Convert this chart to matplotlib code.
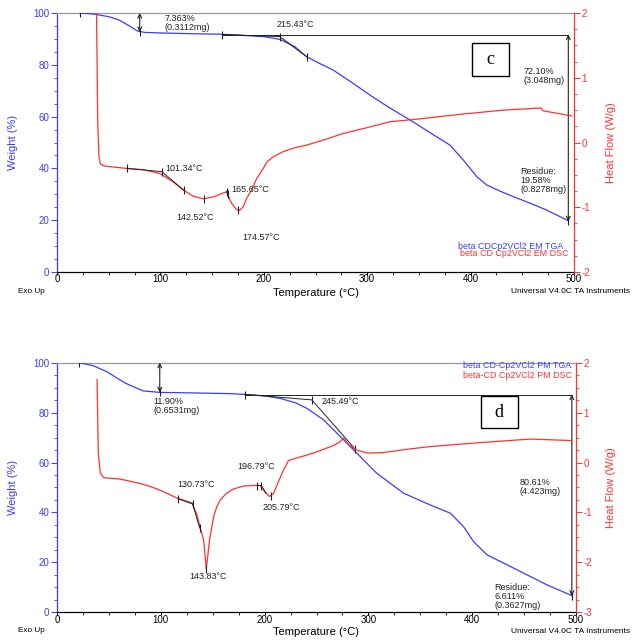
import matplotlib
matplotlib.use('Agg')
import matplotlib.pyplot as plt
from matplotlib.ticker import MultipleLocator
from matplotlib.patches import Rectangle

plt.rcParams['font.family'] = ['Liberation Sans', 'DejaVu Sans']
plt.rcParams['axes.unicode_minus'] = False

BLUE = '#3b3bff'
RED = '#ff3030'

# ---------------- panel c data ----------------
tga_c_T = [22, 35, 50, 60, 70, 78, 85, 100, 130, 160, 199.5, 215.7, 230, 241.5, 254, 267, 285,
           302.7, 320, 341.4, 360, 380, 393, 406, 415.6, 428, 441.3, 458, 473.6, 494.5]
tga_c_W = [100, 99.6, 98.6, 97.3, 95.0, 93.0, 92.5, 92.3, 92.0, 91.8, 90.9, 89.8, 87.0, 83.1, 80.5,
           78.0, 73.2, 68.3, 63.8, 58.7, 54.0, 49.0, 43.2, 36.8, 33.6, 31.3, 29.1, 26.5, 23.9, 19.8]
dsc_c_T = [38.2, 39.4, 40.6, 42.0, 45, 55, 67.4, 83.5, 99.6, 112.5, 122.8, 131.8, 141.5, 151.2,
           160.8, 164.1, 165.7, 169, 173.8, 176.5, 180.2, 183.5, 188.3, 193, 199.5, 203, 209.2,
           218.9, 230, 241.5, 260, 276.9, 300, 322, 347.9, 370, 393, 431.6, 464, 468.5, 470, 497.8]
dsc_c_HF = [2.05, 0.3, -0.22, -0.33, -0.36, -0.38, -0.40, -0.42, -0.48, -0.61, -0.74, -0.83, -0.87,
            -0.84, -0.78, -0.76, -0.84, -0.94, -1.04, -1.05, -0.99, -0.86, -0.73, -0.56, -0.40,
            -0.30, -0.22, -0.14, -0.08, -0.04, 0.05, 0.14, 0.23, 0.32, 0.36, 0.40, 0.44, 0.50,
            0.53, 0.53, 0.49, 0.41]
# analysis constructions, panel c
c_base_T = [160, 494.5]
c_base_W = [91.68, 91.68]
c_onset_T = [160, 215.43, 241.5]
c_onset_W = [91.68, 90.9, 83.1]
c_tga_mark_T = [22, 80, 160, 215.43, 241.5, 494.5]
c_tga_mark_W = [100, 92.64, 91.68, 90.9, 83.1, 19.58]
c_step1 = (80, 100, 92.64)          # T, from, to
c_step2 = (494.5, 91.68, 19.58)
c_dsc_tan_T = [67.4, 101.34, 122.8]
c_dsc_tan_HF = [-0.40, -0.45, -0.74]
c_dsc_tan2_T = [164.1, 166.5]
c_dsc_tan2_HF = [-0.76, -0.86]
c_dsc_mark_T = [67.4, 101.34, 122.8, 142.52, 164.1, 165.65, 174.57]
c_dsc_mark_HF = [-0.40, -0.46, -0.74, -0.87, -0.76, -0.80, -1.05]

# ---------------- panel d data ----------------
tga_d_T = [21.5, 35, 48, 58, 66, 73.5, 83, 99, 130, 167, 181, 200, 215, 230, 240.8, 256.8, 273,
           289, 308, 334, 359.6, 379, 391.7, 401.4, 414.3, 440, 472, 496]
tga_d_W = [100, 98.8, 96.4, 93.8, 91.8, 90.4, 88.7, 88.1, 87.9, 87.6, 87.3, 86.7, 85.7, 83.9, 81.7,
           77.1, 70.4, 63.7, 55.7, 47.7, 43.0, 39.7, 34.3, 28.3, 23.0, 17.7, 11.0, 6.7]
dsc_d_T = [38.6, 39.8, 41.7, 44.9, 48, 60, 67.4, 80, 90, 100, 115.6, 130, 134.9, 138, 141.3, 143.8,
           147, 150.9, 154, 157.3, 163, 170, 180, 189.4, 195.8, 200.7, 204.8, 208.6, 213, 218,
           223, 231, 247, 266.5, 273, 276, 281, 287.4, 298.6, 314.7, 335, 359.6, 407.8, 456, 496]
dsc_d_HF = [1.66, 0.19, -0.21, -0.30, -0.31, -0.33, -0.36, -0.42, -0.48, -0.56, -0.71, -0.81, -1.05,
            -1.31, -1.55, -2.13, -1.55, -1.08, -0.88, -0.75, -0.62, -0.53, -0.47, -0.46, -0.46,
            -0.60, -0.68, -0.62, -0.40, -0.16, 0.04, 0.09, 0.19, 0.34, 0.42, 0.49, 0.36, 0.26,
            0.19, 0.20, 0.26, 0.32, 0.40, 0.47, 0.44]
d_base_T = [181, 496]
d_base_W = [87.22, 87.22]
d_onset_T = [181, 245.49, 287.4]
d_onset_W = [87.3, 85.1, 65.3]
d_tga_mark_T = [21.5, 99, 181, 245.49, 287.4, 496]
d_tga_mark_W = [100, 88.1, 87.22, 85.1, 65.3, 6.611]
d_step1 = (99, 100, 88.1)
d_step2 = (496, 87.22, 6.611)
d_dsc_tan_T = [117, 130.73, 137.4]
d_dsc_tan_HF = [-0.73, -0.83, -1.31]
d_dsc_tan2_T = [192.7, 196.79, 201.7]
d_dsc_tan2_HF = [-0.46, -0.46, -0.62]
d_dsc_mark_T = [117, 130.73, 137.4, 143.83, 192.7, 196.79, 205.79]
d_dsc_mark_HF = [-0.73, -0.83, -1.31, -2.13, -0.46, -0.46, -0.68]

fig = plt.figure(figsize=(6.4, 6.43), dpi=100)


def panel(rect, hf_lim, tga_T, tga_W, dsc_T, dsc_HF, base, onset, tmark, step1, step2,
          dtan, dtan2, dmark, texts, box, boxletter, legend, lab_y):
    ax = fig.add_axes(rect)
    ax2 = ax.twinx()
    ax.set_xlim(0, 500)
    ax.set_ylim(0, 100)
    ax2.set_ylim(*hf_lim)
    ax.set_zorder(1)
    ax2.set_zorder(2)
    ax.patch.set_visible(False)
    ax2.patch.set_visible(False)

    ax.spines['right'].set_visible(False)
    ax.spines['left'].set_color(BLUE)
    ax.spines['bottom'].set_color('black')
    ax.spines['top'].set_color('#9a9a9a')
    for s in ['left', 'top', 'bottom']:
        ax2.spines[s].set_visible(False)
    ax2.spines['right'].set_color(RED)
    for sp in list(ax.spines.values()) + list(ax2.spines.values()):
        sp.set_linewidth(0.9)

    ax.xaxis.set_major_locator(MultipleLocator(100))
    ax.xaxis.set_minor_locator(MultipleLocator(25))
    ax.yaxis.set_major_locator(MultipleLocator(20))
    ax.yaxis.set_minor_locator(MultipleLocator(5))
    ax2.yaxis.set_major_locator(MultipleLocator(1))
    ax2.yaxis.set_minor_locator(MultipleLocator(0.25))
    ax.tick_params(axis='x', which='both', top=False, direction='out', colors='black',
                   labelsize=7, pad=-0.8)
    ax.tick_params(axis='x', which='major', length=2.4, width=0.7)
    ax.tick_params(axis='x', which='minor', length=1.8, width=0.6)
    ax.tick_params(axis='y', which='both', right=False, direction='out', color=BLUE,
                   labelcolor=BLUE, labelsize=7, pad=1.5)
    ax.tick_params(axis='y', which='major', length=4, width=0.7)
    ax.tick_params(axis='y', which='minor', length=2.5, width=0.6)
    ax2.tick_params(axis='y', which='both', direction='out', color=RED, labelcolor=RED,
                    labelsize=7, pad=1.5)
    ax2.tick_params(axis='y', which='major', length=4, width=0.7)
    ax2.tick_params(axis='y', which='minor', length=2.5, width=0.6)

    # curves
    ax.plot(tga_T, tga_W, color=BLUE, lw=0.9, zorder=3)
    ax2.plot(dsc_T, dsc_HF, color=RED, lw=0.9, zorder=3)

    # constructions
    ax.plot(*base, color='#222222', lw=0.7, zorder=4)
    ax.plot(*onset, color='#222222', lw=0.7, zorder=4)
    ax.plot(*tmark, ls='none', marker='|', ms=6, mew=0.8, color='#222222', zorder=5)
    for (t, y0, y1) in (step1, step2):
        ax.annotate('', xy=(t, y1), xytext=(t, y0),
                    arrowprops=dict(arrowstyle='<->', color='#222222', lw=0.8,
                                    shrinkA=0, shrinkB=0, mutation_scale=7), zorder=5)
    ax2.plot(*dtan, color='#222222', lw=0.7, zorder=4)
    ax2.plot(*dtan2, color='#222222', lw=0.7, zorder=4)
    ax2.plot(*dmark, ls='none', marker='|', ms=6, mew=0.8, color='#222222', zorder=5)

    lo, hi = ax2.get_ylim()
    conv = lambda w: lo + (hi - lo) * w / 100.0
    for (t, w, s) in texts:
        ax2.text(t, conv(w), s, fontsize=6.5, color='#222222', ha='left', va='center',
                 linespacing=1.0, zorder=6)

    (bx0, bw0, bx1, bw1) = box
    ax2.add_patch(Rectangle((bx0, conv(bw0)), bx1 - bx0, conv(bw1) - conv(bw0), fill=True,
                            facecolor='white', edgecolor='black', lw=1.0, zorder=6))
    ax2.text((bx0 + bx1) / 2, conv((bw0 + bw1) / 2), boxletter, fontsize=13,
             family='Liberation Serif', ha='center', va='center', zorder=7)

    for (t, w, s, col) in legend:
        ax2.text(t, conv(w), s, fontsize=6.4, color=col, ha='right', va='center', zorder=6)

    # outer labels
    cy = rect[1] + rect[3] / 2
    fig.text(13 / 640, cy, 'Weight (%)', rotation=90, color=BLUE, fontsize=8,
             ha='center', va='center')
    fig.text(611 / 640, cy, 'Heat Flow (W/g)', rotation=90, color=RED, fontsize=8,
             ha='center', va='center')
    fig.text(0.494, lab_y, 'Temperature (°C)', fontsize=8, ha='center', va='center')
    fig.text(18 / 640, lab_y + 0.002, 'Exo Up', fontsize=5.9, ha='left', va='center')
    fig.text(630 / 640, lab_y + 0.001, 'Universal V4.0C TA Instruments', fontsize=6,
             ha='right', va='center')
    return ax, ax2


texts_c = [(104.4, 96.3, '7.363%\n(0.3112mg)'),
           (212.8, 95.75, '215.43°C'),
           (451.6, 75.7, '72.10%\n(3.048mg)'),
           (447.8, 35.5, 'Residue:\n19.58%\n(0.8278mg)'),
           (104.4, 39.8, '101.34°C'),
           (169.0, 32.0, '165.65°C'),
           (115.8, 21.1, '142.52°C'),
           (179.6, 13.2, '174.57°C')]
legend_c = [(489.4, 10.0, 'beta CDCp2VCl2 EM TGA', BLUE),
            (494.2, 7.0, 'beta CD Cp2VCl2 EM DSC', RED)]

panel([57 / 640, 1 - 272 / 643, 517 / 640, 259 / 643], (-2, 2),
      tga_c_T, tga_c_W, dsc_c_T, dsc_c_HF,
      (c_base_T, c_base_W), (c_onset_T, c_onset_W), (c_tga_mark_T, c_tga_mark_W),
      c_step1, c_step2, (c_dsc_tan_T, c_dsc_tan_HF), (c_dsc_tan2_T, c_dsc_tan2_HF),
      (c_dsc_mark_T, c_dsc_mark_HF), texts_c, (401.4, 75.7, 437.1, 88.4), 'c', legend_c,
      1 - 292.5 / 643)

texts_d = [(92.8, 82.5, '11.90%\n(0.6531mg)'),
           (255.3, 84.4, '245.49°C'),
           (445.7, 50.0, '80.61%\n(4.423mg)'),
           (421.3, 6.2, 'Residue:\n6.611%\n(0.3627mg)'),
           (116.2, 51.3, '130.73°C'),
           (127.8, 14.3, '143.83°C'),
           (173.4, 58.4, '196.79°C'),
           (198.5, 41.9, '205.79°C')]
legend_d = [(495.2, 98.7, 'beta CD-Cp2VCl2 PM TGA', BLUE),
            (496.0, 94.8, 'beta-CD Cp2VCl2 PM DSC', RED)]

panel([57 / 640, 1 - 612.3 / 643, 519 / 640, 249.6 / 643], (-3, 2),
      tga_d_T, tga_d_W, dsc_d_T, dsc_d_HF,
      (d_base_T, d_base_W), (d_onset_T, d_onset_W), (d_tga_mark_T, d_tga_mark_W),
      d_step1, d_step2, (d_dsc_tan_T, d_dsc_tan_HF), (d_dsc_tan2_T, d_dsc_tan2_HF),
      (d_dsc_mark_T, d_dsc_mark_HF), texts_d, (408.5, 73.7, 443.7, 86.7), 'd', legend_d,
      1 - 632 / 643)

fig.savefig('out.png', dpi=100)
